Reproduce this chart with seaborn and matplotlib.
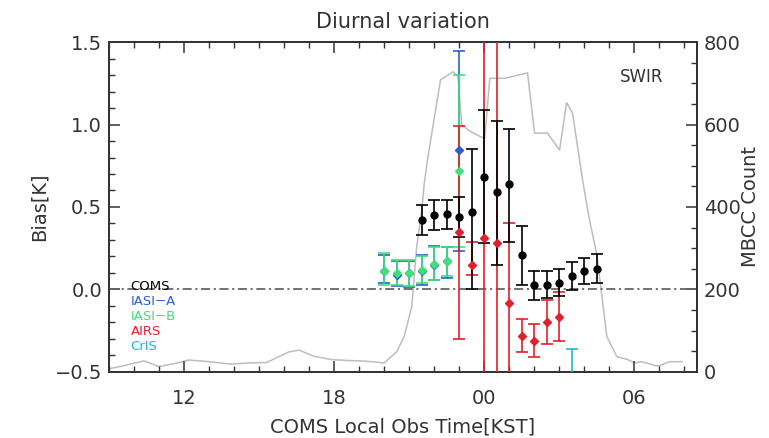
import numpy as np
import pandas as pd
import matplotlib
matplotlib.use('Agg')
import matplotlib.pyplot as plt
from matplotlib.ticker import MultipleLocator, FuncFormatter
import seaborn as sns

# --- DATOS (hora KST, 24+ = dia siguiente) ---
mbcc_hour = [9.0, 9.5, 10.4, 11.0, 11.6, 12.2, 13.0, 13.9, 14.6, 15.3, 16.2, 16.6, 17.2, 17.9,
             18.5, 19.0, 19.5, 20.0, 20.5, 20.8, 21.1, 21.3, 21.5, 21.6, 21.75, 22.25, 22.75,
             22.95, 23.1, 23.45, 23.9, 24.02, 24.22, 24.81, 25.73, 26.01, 26.53, 27.01, 27.29,
             27.53, 27.93, 28.2, 28.49, 28.9, 29.3, 29.7, 30.0, 30.3, 30.85, 31.0, 31.4, 31.9]
mbcc_count = [8, 14, 27, 13, 20, 29, 25, 19, 22, 23, 49, 53, 38, 30,
              28, 27, 25, 22, 49, 86, 158, 304, 390, 457, 522, 708, 728,
              716, 599, 583, 569, 567, 712, 712, 725, 579, 579, 538, 653,
              627, 465, 370, 288, 86, 37, 31, 22, 25, 15, 15, 25, 25]

coms_hour = [21.5, 22.0, 22.5, 23.0, 23.5, 24.0, 24.5, 25.0, 25.5, 26.0, 26.5, 27.0, 27.5, 28.0, 28.5]
coms_bias = [0.42, 0.45, 0.46, 0.44, 0.47, 0.68, 0.59, 0.64, 0.21, 0.025, 0.025, 0.04, 0.08, 0.11, 0.125]
coms_lo = [0.33, 0.36, 0.365, 0.32, 0.0, 0.28, 0.15, 0.29, 0.027, -0.064, -0.05, -0.04, -0.003, 0.032, 0.037]
coms_hi = [0.51, 0.54, 0.54, 0.56, 0.85, 1.09, 1.02, 0.97, 0.387, 0.114, 0.112, 0.126, 0.167, 0.193, 0.215]

iasia_hour = [20.0, 20.5, 21.0, 21.5, 22.0, 22.5, 23.0]
iasia_bias = [0.11, 0.09, 0.10, 0.11, 0.15, 0.17, 0.845]
iasia_lo = [0.04, 0.02, 0.015, 0.03, 0.055, 0.07, 0.235]
iasia_hi = [0.21, 0.17, 0.17, 0.21, 0.265, 0.26, 1.445]

iasib_hour = [20.0, 20.5, 21.0, 21.5, 22.0, 22.5, 23.0]
iasib_bias = [0.11, 0.10, 0.10, 0.12, 0.155, 0.17, 0.72]
iasib_lo = [0.03, 0.03, 0.02, 0.04, 0.06, 0.08, 0.26]
iasib_hi = [0.22, 0.18, 0.18, 0.20, 0.26, 0.26, 1.30]

airs_hour = [23.0, 23.5, 24.0, 24.5, 25.0, 25.5, 26.0, 26.5, 27.0]
airs_bias = [0.35, 0.15, 0.31, 0.28, -0.08, -0.28, -0.31, -0.195, -0.165]
airs_lo = [-0.30, 0.09, -1.2, -1.2, -1.2, -0.38, -0.41, -0.33, -0.31]
airs_hi = [0.99, 0.29, 2.0, 2.0, 0.40, -0.18, -0.21, -0.064, -0.013]

cris_hour = [27.5]
cris_bias = [-0.62]
cris_lo = [-0.9]
cris_hi = [-0.36]

sns.set_style('ticks')
plt.rcParams['font.family'] = ['DejaVu Sans']
gris = '#333333'
plt.rcParams['text.color'] = gris
plt.rcParams['axes.labelcolor'] = gris
plt.rcParams['xtick.color'] = gris
plt.rcParams['ytick.color'] = gris

fig = plt.figure(figsize=(7.69, 4.38), dpi=100)
ax = fig.add_axes([0.1417, 0.1507, 0.7646, 0.7534])
ax2 = ax.twinx()
ax.set_zorder(ax2.get_zorder() + 1)
ax.patch.set_visible(False)

# curva de conteo MBCC (eje derecho)
df_mbcc = pd.DataFrame({'hora': mbcc_hour, 'conteo': mbcc_count})
sns.lineplot(data=df_mbcc, x='hora', y='conteo', ax=ax2, color='#bdbdbd', lw=1.1)
ax2.set_ylim(0, 800)

ax.axhline(0, color='#666666', ls=(0, (5, 2, 1.2, 2)), lw=1.3, zorder=1)


def dibujar(horas, bias, lo, hi, color, marker, ms):
    b = np.array(bias)
    yerr = [b - np.array(lo), np.array(hi) - b]
    ax.errorbar(horas, b, yerr=yerr, fmt=marker, color=color, ms=ms,
                capsize=4, elinewidth=1.2, capthick=1.2, zorder=3)


dibujar(cris_hour, cris_bias, cris_lo, cris_hi, '#1fb5d6', 'D', 4)
dibujar(iasia_hour, iasia_bias, iasia_lo, iasia_hi, '#2a5fd0', 'D', 4.5)
dibujar(iasib_hour, iasib_bias, iasib_lo, iasib_hi, '#3ee07a', 'D', 4.5)
dibujar(airs_hour, airs_bias, airs_lo, airs_hi, '#e0202a', 'D', 4.5)
dibujar(coms_hour, coms_bias, coms_lo, coms_hi, 'black', 'o', 5)

ax.set_xlim(9, 32.5)
ax.set_ylim(-0.5, 1.5)
ax.xaxis.set_major_locator(MultipleLocator(6))
ax.xaxis.set_minor_locator(MultipleLocator(1))
ax.xaxis.set_major_formatter(FuncFormatter(lambda v, p: f'{int(round(v)) % 24:02d}'))
ax.yaxis.set_major_locator(MultipleLocator(0.5))
ax.yaxis.set_minor_locator(MultipleLocator(0.1))
ax2.yaxis.set_major_locator(MultipleLocator(200))
ax2.yaxis.set_minor_locator(MultipleLocator(50))

ax.tick_params(axis='x', which='both', direction='in', top=True, labelsize=14, pad=12)
ax.tick_params(axis='y', which='both', direction='in', right=False, labelsize=14, pad=5)
ax.tick_params(which='major', length=8, width=1.1)
ax.tick_params(which='minor', length=4.5, width=1.0)
ax2.tick_params(axis='y', which='both', direction='in', labelsize=14, pad=5)
ax2.tick_params(which='major', length=8, width=1.1)
ax2.tick_params(which='minor', length=4.5, width=1.0)

for sp in list(ax.spines.values()) + list(ax2.spines.values()):
    sp.set_color(gris)
    sp.set_linewidth(1.3)

ax.set_title('Diurnal variation', fontsize=15, pad=10)
ax.set_xlabel('COMS Local Obs Time[KST]', fontsize=14, labelpad=7)
ax.set_ylabel('Bias[K]', fontsize=14, labelpad=4)
ax2.set_ylabel('MBCC Count', fontsize=14, labelpad=0)
ax2.set_xlabel('')

# leyenda en texto
nombres = ['COMS', 'IASI-A', 'IASI-B', 'AIRS', 'CrIS']
colores = ['black', '#2a5fd0', '#3ee07a', '#e0202a', '#1fb5d6']
for i, (n, c) in enumerate(zip(nombres, colores)):
    ax.text(0.037, 0.258 - i * 0.045, n.replace('-', '\u2212'), color=c, fontsize=9.5,
            transform=ax.transAxes, va='center', ha='left')

ax.text(0.906, 0.894, 'SWIR', fontsize=12, ha='center', va='center', transform=ax.transAxes)

fig.savefig('out.png', dpi=100)
